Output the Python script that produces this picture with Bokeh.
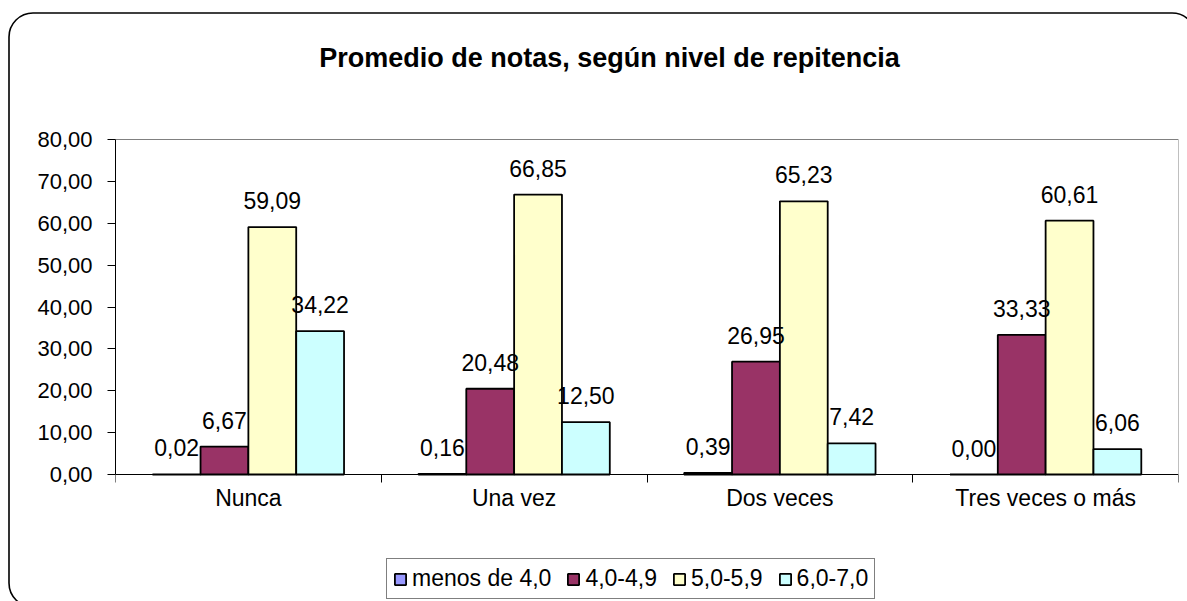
from urllib.parse import quote
from bokeh.plotting import figure
from bokeh.models import (ColumnDataSource, Range1d, FixedTicker, LinearAxis, LabelSet, Label,
                          Legend, LegendItem)
from bokeh.core.properties import value
from bokeh.transform import dodge
from bokeh.embed import file_html
from bokeh.resources import INLINE

# ---- data ----
categories = ["Nunca", "Una vez", "Dos veces", "Tres veces o más"]
series_names = ["menos de 4,0", "4,0-4,9", "5,0-5,9", "6,0-7,0"]
menos_4 = [0.02, 0.16, 0.39, 0.00]
de_4_a_49 = [6.67, 20.48, 26.95, 33.33]
de_5_a_59 = [59.09, 66.85, 65.23, 60.61]
de_6_a_7 = [34.22, 12.50, 7.42, 6.06]
y_ticks = [0, 10, 20, 30, 40, 50, 60, 70, 80]
y_tick_labels = ["0,00", "10,00", "20,00", "30,00", "40,00", "50,00", "60,00", "70,00", "80,00"]
title_text = "Promedio de notas, según nivel de repitencia"

series_values = [menos_4, de_4_a_49, de_5_a_59, de_6_a_7]
colors = ["#9999FF", "#993366", "#FFFFCC", "#CCFFFF"]
FONT = "Liberation Sans"

pos = [i + 0.5 for i in range(len(categories))]
data = {"x": pos}
for k, vals in enumerate(series_values):
    data[f"s{k}"] = vals
    data[f"l{k}"] = [f"{v:.2f}".replace(".", ",") for v in vals]
src = ColumnDataSource(data)

# layout geometry (pixels)
W, H = 1187, 601
LEFT, RIGHT = 115, 1178                # pixel columns of the plot area
TOP_Y, AXIS_Y = 139, 474               # pixel rows of y=80 and y=0
TITLE_CX, TITLE_CY = 609, 57           # title centre (pixels)
n = len(categories)
y_max = y_ticks[-1]
ppu_y = (AXIS_Y - TOP_Y) / y_max
ppu_x = (RIGHT - LEFT) / n
y_lo = -(H - AXIS_Y) / ppu_y           # frame spans the whole canvas height
y_hi = y_max + TOP_Y / ppu_y

p = figure(width=W, height=H, output_backend="svg", toolbar_location=None, title=None,
           x_range=Range1d(0, n), y_range=Range1d(y_lo, y_hi),
           min_border_left=LEFT, min_border_right=W - RIGHT, min_border_top=0, min_border_bottom=0,
           x_axis_type=None, y_axis_type=None)
p.border_fill_alpha = 0
p.background_fill_alpha = 0
p.outline_line_color = None

# rounded chart border (page decoration behind the transparent canvas)
svg_border = ("<svg xmlns='http://www.w3.org/2000/svg' width='%d' height='%d'>"
              "<rect x='9' y='13' width='1187' height='594' rx='24' ry='24' "
              "fill='white' stroke='black' stroke-width='1.6'/></svg>") % (W, H)
p.styles = {"background-image": "url(\"data:image/svg+xml;charset=utf8,%s\")" % quote(svg_border),
            "background-repeat": "no-repeat", "background-color": "white"}

# y axis
yaxis = LinearAxis(ticker=FixedTicker(ticks=y_ticks), bounds=(0, y_max),
                   major_label_overrides={t: l for t, l in zip(y_ticks, y_tick_labels)})
yaxis.major_tick_out = 8
yaxis.major_tick_in = 0
yaxis.minor_tick_out = 0
yaxis.minor_tick_in = 0
yaxis.major_label_standoff = 15
yaxis.major_label_text_font = FONT
yaxis.major_label_text_font_size = "22px"
yaxis.major_label_text_color = "black"
yaxis.axis_line_color = "black"
yaxis.major_tick_line_color = "black"
p.add_layout(yaxis, "left")

p.ygrid.ticker = FixedTicker(ticks=y_ticks)
p.ygrid.grid_line_color = "black"
p.ygrid.grid_line_width = 1
p.xgrid.grid_line_color = None

# gray plot-area border (right and top)
raxis = LinearAxis(fixed_location=n, bounds=(0, y_max), ticker=FixedTicker(ticks=[]))
raxis.major_tick_out = 0
raxis.major_tick_in = 0
raxis.minor_tick_out = 0
raxis.minor_tick_in = 0
raxis.major_label_text_font_size = "1px"
raxis.axis_line_color = "#808080"
p.add_layout(raxis, "right")
taxis = LinearAxis(fixed_location=y_max, ticker=FixedTicker(ticks=[]))
taxis.major_tick_out = 0
taxis.major_tick_in = 0
taxis.minor_tick_out = 0
taxis.minor_tick_in = 0
taxis.major_label_text_font_size = "1px"
taxis.axis_line_color = "#808080"
p.add_layout(taxis, "above")

bar_w = 0.18
offsets = [-0.27, -0.09, 0.09, 0.27]
items = []
for k in range(4):
    r = p.vbar(x=dodge("x", offsets[k], range=p.x_range), top=f"s{k}", width=bar_w,
               source=src, fill_color=colors[k], line_color="black", line_width=1.8)
    items.append(LegendItem(label=series_names[k], renderers=[r]))
    lab = LabelSet(x=dodge("x", offsets[k], range=p.x_range), y=f"s{k}", text=f"l{k}",
                   source=src, text_align="center", text_baseline="alphabetic",
                   y_offset=18, text_font=value(FONT), text_font_size=value("23px"),
                   text_color="black")
    p.add_layout(lab)

# x axis at y=0 with ticks at category boundaries
xaxis = LinearAxis(fixed_location=0, ticker=FixedTicker(ticks=list(range(n + 1))),
                   major_label_overrides={i: "" for i in range(n + 1)})
xaxis.major_tick_out = 8
xaxis.major_tick_in = 0
xaxis.minor_tick_out = 0
xaxis.minor_tick_in = 0
xaxis.major_label_text_font_size = "1px"
xaxis.axis_line_color = "black"
xaxis.major_tick_line_color = "black"
p.add_layout(xaxis, "below")

# category labels
caxis = LinearAxis(fixed_location=0, ticker=FixedTicker(ticks=pos),
                   major_label_overrides={x: c for x, c in zip(pos, categories)})
caxis.major_tick_out = 0
caxis.major_tick_in = 0
caxis.minor_tick_out = 0
caxis.minor_tick_in = 0
caxis.axis_line_color = None
caxis.major_tick_line_color = None
caxis.major_label_standoff = 10
caxis.major_label_text_font = FONT
caxis.major_label_text_font_size = "23px"
caxis.major_label_text_color = "black"
p.add_layout(caxis, "below")

legend = Legend(items=items, orientation="horizontal", location=(271, 2))
legend.label_text_font = FONT
legend.label_text_font_size = "23px"
legend.label_text_color = "black"
legend.label_height = 25
legend.glyph_width = 14
legend.glyph_height = 14
legend.label_standoff = 5
legend.spacing = 15
legend.padding = 6
legend.margin = 0
legend.border_line_color = "black"
legend.border_line_width = 1
legend.background_fill_color = "white"
p.add_layout(legend, "center")

# chart title
title = Label(x=(TITLE_CX - LEFT) / ppu_x, y=(AXIS_Y - TITLE_CY) / ppu_y,
              text=title_text, text_font=FONT, text_font_style="bold", text_font_size="27px",
              text_color="black", text_align="center", text_baseline="middle")
p.add_layout(title)

open("out.html", "w").write(file_html(p, INLINE))
